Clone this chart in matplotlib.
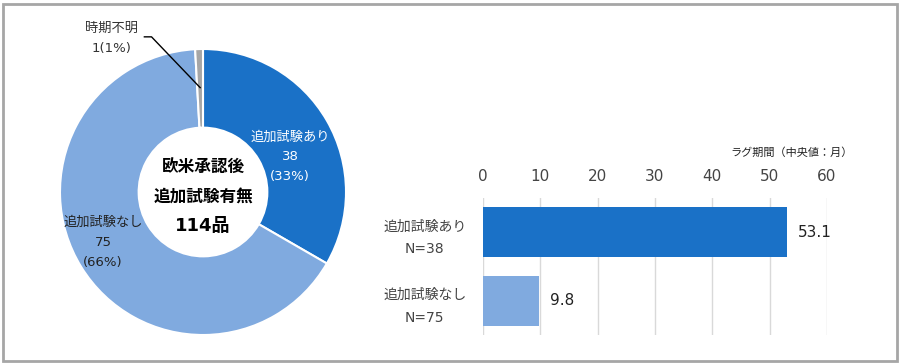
import matplotlib
matplotlib.use("Agg")
import matplotlib.pyplot as plt
from matplotlib.patches import Rectangle

# latin glyphs from DejaVu (wide like Meiryo), japanese from Noto CJK
plt.rcParams['font.family'] = ['DejaVu Sans', 'Noto Sans CJK JP']

# donut data
pie_labels = ['追加試験あり', '追加試験なし', '時期不明']
pie_counts = [38, 75, 1]
pie_pcts = ['33%', '66%', '1%']
pie_colors = ['#1a71c7', '#80aadf', '#a6a6a6']
center_title = ['欧米承認後', '追加試験有無', '114品']

# bar data
bar_cats = ['追加試験あり\nN=38', '追加試験なし\nN=75']
bar_vals = [53.1, 9.8]
bar_colors = ['#1a71c7', '#80aadf']
x_ticks = [0, 10, 20, 30, 40, 50, 60]
x_title = 'ラグ期間（中央値：月）'

W, H = 900, 364
fig = plt.figure(figsize=(W / 100, H / 100), dpi=100)

# outer frame
fig.patches.append(Rectangle((3 / W, 3 / H), 894 / W, 357 / H, transform=fig.transFigure,
                             fill=False, edgecolor='#a6a6a6', linewidth=2))

# ---- donut ----
cx, cy, r = 203, 192, 143
ax1 = fig.add_axes([(cx - r) / W, (H - cy - r) / H, 2 * r / W, 2 * r / H])
ax1.pie(pie_counts, colors=pie_colors, startangle=90, counterclock=False, radius=1,
        wedgeprops=dict(width=0.55, edgecolor='white', linewidth=1.5))
ax1.set_xlim(-1, 1)
ax1.set_ylim(-1, 1)
ax1.set_aspect('equal')
ax1.axis('off')

# slice labels
ax1.text(0.61, 0.245, pie_labels[0] + '\n' + str(pie_counts[0]) + '\n(' + pie_pcts[0] + ')',
         color='white', fontsize=9.5, ha='center', va='center', linespacing=1.7)
ax1.text(-0.70, -0.35, pie_labels[1] + '\n' + str(pie_counts[1]) + '\n(' + pie_pcts[1] + ')',
         color='#222222', fontsize=9.5, ha='center', va='center', linespacing=1.7)
ax1.text(-0.64, 1.075, pie_labels[2] + '\n' + str(pie_counts[2]) + '(' + pie_pcts[2] + ')',
         color='#333333', fontsize=9.5, ha='center', va='center', linespacing=1.7, clip_on=False)
ax1.plot([-0.41, -0.36, -0.02], [1.085, 1.085, 0.73], color='black', lw=1, clip_on=False)

# center text
ax1.text(0, 0.175, center_title[0], fontsize=12, fontweight='bold', ha='center', va='center')
ax1.text(0, -0.035, center_title[1], fontsize=12, fontweight='bold', ha='center', va='center')
ax1.text(0, -0.24, center_title[2], fontsize=13, fontweight='bold', ha='center', va='center')

# ---- bars ----
ax2 = fig.add_axes([483 / W, 29 / H, 344 / W, 137 / H])
ypos = list(range(len(bar_vals)))
ax2.barh(ypos, bar_vals, height=0.73, color=bar_colors, zorder=2)
ax2.set_xlim(0, 60)
ax2.set_ylim(1.5, -0.5)
ax2.set_xticks(x_ticks)
ax2.xaxis.tick_top()
ax2.tick_params(axis='x', length=0, labelsize=11, labelcolor='#444444', pad=10)
ax2.set_yticks(ypos)
ax2.set_yticklabels(bar_cats, fontsize=10, color='#444444', linespacing=1.75, ha='center')
ax2.tick_params(axis='y', length=0, pad=42)
ax2.grid(axis='x', color='#d9d9d9', lw=1, zorder=0)
for s in ax2.spines.values():
    s.set_visible(False)
for y, v in zip(ypos, bar_vals):
    ax2.text(v + 1.8, y, str(v), fontsize=11, va='center', ha='left', color='#222222')

fig.text(853 / W, 1 - 153 / H, x_title, fontsize=8, ha='right', va='center', color='#222222')

fig.savefig('out.png', dpi=100)
